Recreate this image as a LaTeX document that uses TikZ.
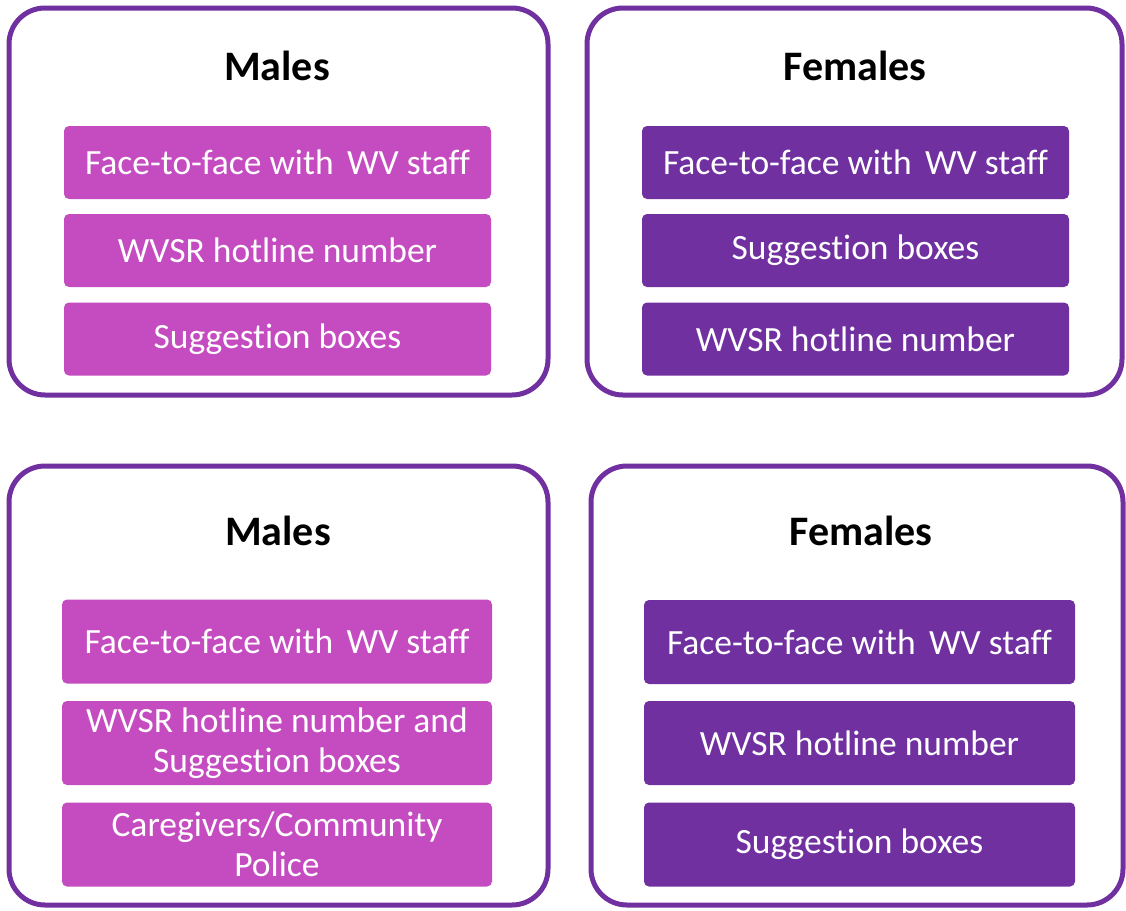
\documentclass[tikz,border=0pt]{standalone}
\usepackage{fontspec}
\setmainfont[Ligatures=NoCommon]{Carlito}
\definecolor{frameline}{HTML}{7030A0}
\definecolor{malefill}{HTML}{C44CC0}
\definecolor{femalefill}{HTML}{7030A0}
\newcommand{\widegap}{\hspace{0.38em}}
\begin{document}
\begin{tikzpicture}[x=1pt,y=-1pt,
  panel/.style={draw=frameline,line width=5pt,rounded corners=36pt,fill=white},
  heading/.style={font=\fontsize{42}{48}\selectfont\bfseries,text=black,inner sep=0pt},
  item/.style={rectangle,rounded corners=5pt,minimum height=73pt,minimum width=427pt,
    inner sep=0pt,text=white,align=center,font=\fontsize{35.5}{40}\selectfont},
  male/.style={item,fill=malefill},
  female/.style={item,fill=femalefill},
  tall/.style={minimum height=84pt,minimum width=430pt}]
\useasboundingbox[fill=white] (0,0) rectangle (1126,910);

% four panels
\draw[panel] (9,8) rectangle (548,395);
\draw[panel] (587,8) rectangle (1122,395);
\draw[panel] (9,466) rectangle (548,905);
\draw[panel] (591,466) rectangle (1123,905);

% upper left: males
\node[heading] (ml) at (277,66) {Males};
\node[male] (ml1) at (277.5,162.5) {Face-to-face with\widegap WV staff};
\node[male] (ml2) at (277.5,250.5) {WVSR hotline number};
\node[male] (ml3) at (277.5,339) {Suggestion boxes};

% upper right: females
\node[heading] (fu) at (855,66) {Females};
\node[female] (fu1) at (855.5,162.5) {Face-to-face with\widegap WV staff};
\node[female] (fu2) at (855.5,250.5) {Suggestion boxes};
\node[female] (fu3) at (855.5,339) {WVSR hotline number};

% lower left: males
\node[heading] (mb) at (278,531) {Males};
\node[male,tall] (mb1) at (277,641.5) {Face-to-face with\widegap WV staff};
\node[male,tall] (mb2) at (277,743) {WVSR hotline number and\\Suggestion boxes};
\node[male,tall] (mb3) at (277,844.5) {Caregivers/Community\\Police};

% lower right: females
\node[heading] (fb) at (861,531) {Females};
\node[female,tall,minimum width=431pt] (fb1) at (859.5,642) {Face-to-face with\widegap WV staff};
\node[female,tall,minimum width=431pt] (fb2) at (859.5,743) {WVSR hotline number};
\node[female,tall,minimum width=431pt] (fb3) at (859.5,844.5) {Suggestion boxes};
\end{tikzpicture}
\end{document}
